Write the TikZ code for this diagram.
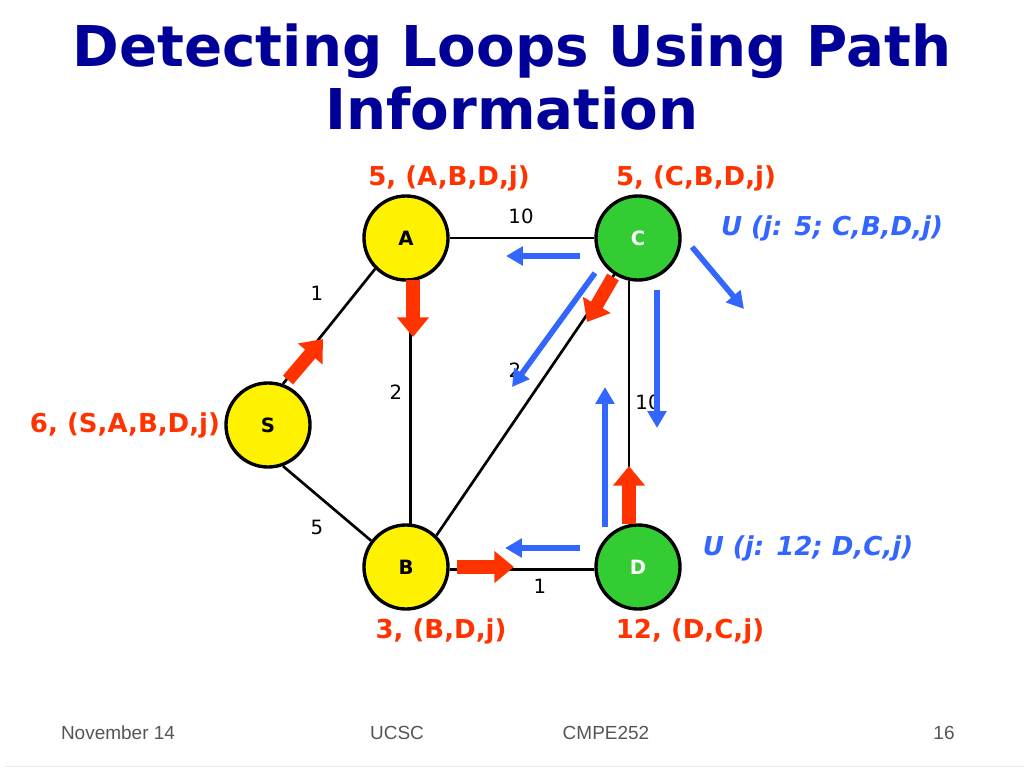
\documentclass[tikz,border=0pt]{standalone}
\usepackage{fontspec}
\setmainfont{DejaVu Sans}
\newfontfamily\footfont{Liberation Sans}
\usetikzlibrary{arrows.meta}
\definecolor{titleblue}{HTML}{000099}
\definecolor{pathred}{HTML}{FF3300}
\definecolor{updblue}{HTML}{3366FF}
\definecolor{nodegreen}{HTML}{33CC33}
\definecolor{footgray}{HTML}{555555}
\begin{document}
\begin{tikzpicture}[x=0.025cm,y=-0.025cm]
	\tikzstyle{every node}=[inner sep=0pt]
	\tikzstyle{router}=[circle,draw=black,line width=2.4pt,minimum size=2.1cm,font=\fontsize{14}{16}\selectfont\bfseries]
	\tikzstyle{link}=[draw=black,line width=1.9pt]
	\tikzstyle{cost}=[font=\fontsize{14}{16}\selectfont]
	\tikzstyle{dist}=[text=pathred,font=\fontsize{18.5}{21}\selectfont\bfseries]
	\tikzstyle{upd}=[text=updblue,font=\fontsize{18.5}{21}\selectfont\bfseries\itshape]
	\tikzstyle{fwd}=[draw=pathred,line width=9.5pt,-{Triangle[width=22pt,length=14pt]}]
	\tikzstyle{msg}=[draw=updblue,line width=4pt,-{Triangle[width=13pt,length=12pt]}]
	\tikzstyle{title}=[text=titleblue,align=center,font=\fontsize{40}{45}\selectfont\bfseries]
	\tikzstyle{foot}=[text=footgray,font=\footfont\fontsize{13.5}{16}\selectfont]
	\useasboundingbox (0,0) rectangle (1024,768);
	\node[title] (title) at (512,77) {Detecting Loops Using Path\\Information};
	% routers
	\node[router,fill=yellow] (S) at (268,425) {S};
	\node[router,fill=yellow] (A) at (406,238) {A};
	\node[router,fill=nodegreen,text=white] (C) at (638,238) {C};
	\node[router,fill=yellow] (B) at (406,567) {B};
	\node[router,fill=nodegreen,text=white] (D) at (638,567) {D};
	% links and costs
	\draw[link] (S.70) -- (A.225);
	\draw[link] (S.-70) -- (B.143);
	\draw[link] (A.east) -- (C.west);
	\draw[link] (A.276) -- (B.84);
	\draw[link] (B.46) -- (C.237);
	\draw[link] (C.258) -- (D.102);
	\draw[link] (B.-3) -- (D.183);
	\node[cost] (cSA) at (317,293) {1};
	\node[cost] (cSB) at (317,527) {5};
	\node[cost] (cAC) at (521,216) {10};
	\node[cost] (cAB) at (396,392) {2};
	\node[cost] (cBC) at (515,370) {2};
	\node[cost] (cCD) at (648,402) {10};
	\node[cost] (cBD) at (540,586) {1};
	% path labels
	\node[dist] (dA) at (449,178) {5, (A,B,D,j)};
	\node[dist] (dC) at (696,178) {5, (C,B,D,j)};
	\node[dist] (dS) at (125,425) {6, (S,A,B,D,j)};
	\node[dist] (dB) at (441,631) {3, (B,D,j)};
	\node[dist] (dD) at (690,631) {12, (D,C,j)};
	\node[upd] (uC) at (832,228) {U (j: 5; C,B,D,j)};
	\node[upd] (uD) at (808,548) {U (j: 12; D,C,j)};
	% forwarding path
	\draw[fwd] (288,380) -- (323,339);
	\draw[fwd] (413,280) -- (413,337);
	\draw[fwd] (613,277) -- (587,322);
	\draw[fwd] (457,567) -- (514,567);
	\draw[fwd] (629,524) -- (629,466);
	% updates
	\draw[msg] (580,256) -- (506,256);
	\draw[msg] (595,273) -- (512,387);
	\draw[msg] (692,247) -- (744,309);
	\draw[msg] (657,290) -- (657,428);
	\draw[msg] (605,527) -- (605,387);
	\draw[msg] (580,548) -- (505,548);
	% footer
	\node[foot] (f1) at (118,733) {November 14};
	\node[foot] (f2) at (397,733) {UCSC};
	\node[foot] (f3) at (606,733) {CMPE252};
	\node[foot] (f4) at (944,733) {16};
	\draw[black!8] (5,766) -- (1024,766);
\end{tikzpicture}
\end{document}
